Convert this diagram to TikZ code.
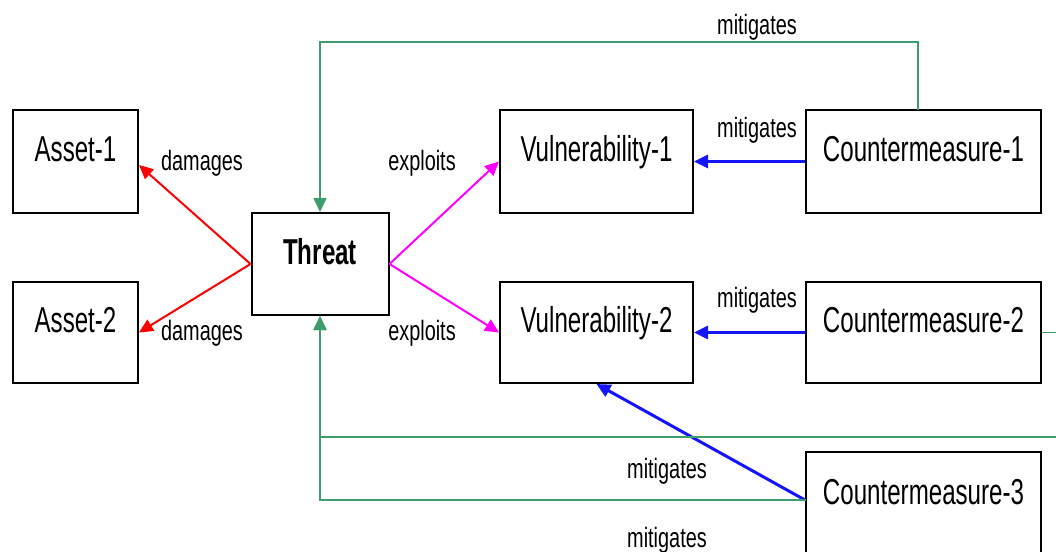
\documentclass[tikz,border=0pt]{standalone}
\usepackage{fontspec}
\setmainfont{Liberation Sans}
\newfontfamily\boxfont[FakeStretch=0.67]{Liberation Sans}
\newfontfamily\lblfont[FakeStretch=0.71]{Liberation Sans}
\usetikzlibrary{arrows.meta}
\definecolor{mgreen}{RGB}{60,158,108}
\definecolor{mblue}{RGB}{20,20,255}
\definecolor{mmag}{RGB}{255,0,255}
\definecolor{mred}{RGB}{255,0,0}
\begin{document}
\begin{tikzpicture}[x=1pt,y=-1pt,
  box/.style={draw=black,line width=2pt,inner sep=0pt,
    font=\boxfont\fontsize{36}{40}\selectfont,
    text height=27pt,text depth=27pt},
  lbl/.style={font=\lblfont\fontsize{28}{32}\selectfont,anchor=base,inner sep=0pt},
  tip/.style={-{Triangle[length=14pt,width=13pt]}},
  dmg/.style={tip,draw=mred,line width=2pt},
  expl/.style={tip,draw=mmag,line width=2pt},
  mitb/.style={tip,draw=mblue,line width=3pt},
  mitg/.style={draw=mgreen,line width=1.7pt},
]
\useasboundingbox (0,0) rectangle (1056,551);
\fill[white] (0,0) rectangle (1056,551);
\clip (0,0) rectangle (1056,551);

\node[box,minimum width=125pt,minimum height=103pt] (A1) at (75.5,161.5) {Asset-1\hspace{8pt}};
\node[box,minimum width=125pt,minimum height=101pt] (A2) at (75.5,332.5) {Asset-2\hspace{8pt}};
\node[box,minimum width=137pt,minimum height=102pt,font=\boxfont\bfseries\fontsize{36}{40}\selectfont] (T) at (320,264) {Threat};
\node[box,minimum width=193pt,minimum height=103pt] (V1) at (596.5,161.5) {Vulnerability-1\hspace{8pt}};
\node[box,minimum width=193pt,minimum height=101pt] (V2) at (596.5,332.5) {Vulnerability-2\hspace{8pt}};
\node[box,minimum width=235pt,minimum height=103pt] (C1) at (923.5,161.5) {Countermeasure-1\hspace{8pt}};
\node[box,minimum width=235pt,minimum height=101pt] (C2) at (923.5,332.5) {Countermeasure-2\hspace{8pt}};
\node[box,minimum width=235pt,minimum height=104pt] (C3) at (923.5,504) {Countermeasure-3\hspace{8pt}};

% damages
\draw[dmg] (T.west) -- (A1.east |- 0,165);
\draw[dmg] (T.west) -- (A2.east);
% exploits
\draw[expl] (T.east) -- (V1.west);
\draw[expl] (T.east) -- (V2.west);
% mitigates (blue)
\draw[mitb] (C1.west) -- (V1.east);
\draw[mitb] (C2.west) -- (V2.east);
\draw[mitb] (C3.west |- 0,500) -- (V2.south);
% mitigates (green)
\coordinate (c1t) at (918,110);
\coordinate (top) at (918,42);
\draw[mitg,tip] (c1t) -- (top) -| (T.north);
\coordinate (c2r) at (1075,332.5);
\coordinate (c2rd) at (1075,437);
\draw[mitg,tip] (C2.east) -- (c2r) -- (c2rd) -| (T.south);
\coordinate (c3l) at (806,500);
\draw[mitg,tip] (c3l) -| (T.south);

% labels
\node[lbl] (l1) at (202,170) {damages};
\node[lbl] (l2) at (202,340) {damages};
\node[lbl] (l3) at (422,170) {exploits};
\node[lbl] (l4) at (422,340) {exploits};
\node[lbl] (l5) at (757,35) {mitigates};
\node[lbl] (l6) at (757,137) {mitigates};
\node[lbl] (l7) at (757,307) {mitigates};
\node[lbl] (l8) at (667,478) {mitigates};
\node[lbl] (l9) at (667,547) {mitigates};
\end{tikzpicture}
\end{document}
